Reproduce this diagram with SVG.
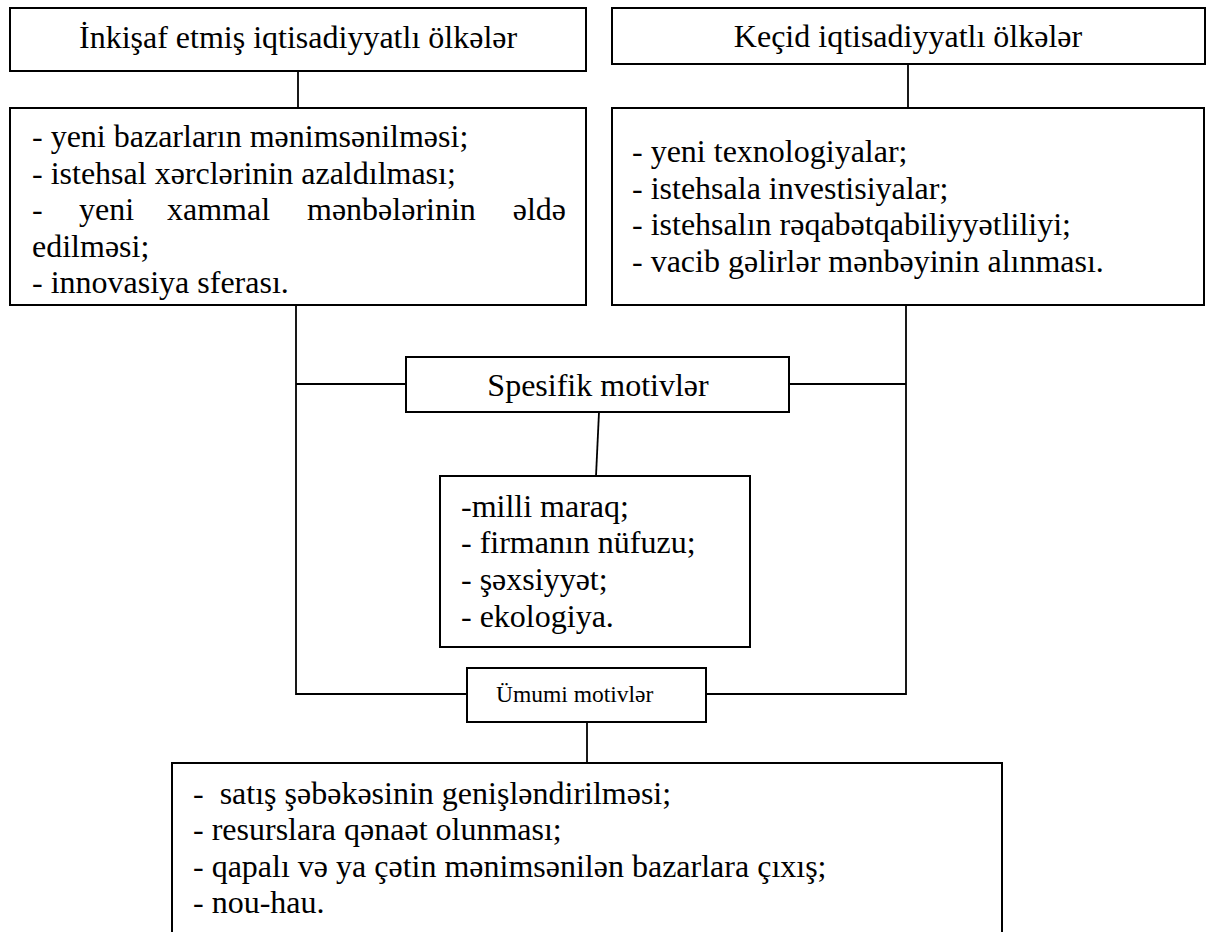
<svg xmlns="http://www.w3.org/2000/svg" width="1207" height="932" viewBox="0 0 1207 932" font-family="'Liberation Serif', 'Times New Roman', serif">
<style>
.box{fill:#fff;stroke:#000;stroke-width:2}
.ln{fill:none;stroke:#000;stroke-width:1.8}
text{font-family:"Liberation Serif","Times New Roman",serif;font-size:32px;fill:#000}
.sm{font-size:23.5px}
</style>
<rect width="1207" height="932" fill="#fff"/>
<g id="connectors">
<line class="ln" x1="298" y1="71" x2="298" y2="108"/>
<line class="ln" x1="908" y1="64" x2="908" y2="108"/>
<polyline class="ln" points="296,305 296,694 467,694"/>
<polyline class="ln" points="906,305 906,694 706,694"/>
<line class="ln" x1="296" y1="384" x2="406" y2="384"/>
<line class="ln" x1="789" y1="384" x2="906" y2="384"/>
<line class="ln" x1="599" y1="412" x2="596" y2="476"/>
<line class="ln" x1="587" y1="722" x2="587" y2="763"/>
</g>
<g id="n1">
<rect class="box" x="10" y="8" width="576" height="63"/>
<text x="79" y="48">İnkişaf etmiş iqtisadiyyatlı ölkələr</text>
</g>
<g id="n2">
<rect class="box" x="612" y="8" width="593" height="56"/>
<text x="908" y="47" text-anchor="middle">Keçid iqtisadiyyatlı ölkələr</text>
</g>
<g id="n3">
<rect class="box" x="10" y="108" width="576" height="197"/>
<text x="32" y="147">- yeni bazarların mənimsənilməsi;</text>
<text x="32" y="183.5">- istehsal xərclərinin azaldılması;</text>
<text y="220"><tspan x="32">-</tspan><tspan x="79">yeni</tspan><tspan x="167">xammal</tspan><tspan x="307">mənbələrinin</tspan><tspan x="566" text-anchor="end">əldə</tspan></text>
<text x="32" y="256.7">edilməsi;</text>
<text x="32" y="293.3">- innovasiya sferası.</text>
</g>
<g id="n4">
<rect class="box" x="612" y="108" width="592" height="197"/>
<text x="632" y="162">- yeni texnologiyalar;</text>
<text x="632" y="198.7">- istehsala investisiyalar;</text>
<text x="632" y="235.4">- istehsalın rəqabətqabiliyyətliliyi;</text>
<text x="632" y="272">- vacib gəlirlər mənbəyinin alınması.</text>
</g>
<g id="n5">
<rect class="box" x="406" y="357" width="383" height="55"/>
<text x="598" y="396" text-anchor="middle">Spesifik motivlər</text>
</g>
<g id="n6">
<rect class="box" x="440" y="476" width="310" height="171"/>
<text x="461" y="516.7">-milli maraq;</text>
<text x="461" y="553.3">- firmanın nüfuzu;</text>
<text x="461" y="590">- şəxsiyyət;</text>
<text x="461" y="626.7">- ekologiya.</text>
</g>
<g id="n7">
<rect class="box" x="467" y="668" width="239" height="54"/>
<text class="sm" x="496" y="702">Ümumi motivlər</text>
</g>
<g id="n8">
<rect class="box" x="172" y="763" width="830" height="220"/>
<text x="193" y="803.5" xml:space="preserve">-  satış şəbəkəsinin genişləndirilməsi;</text>
<text x="193" y="840">- resurslara qənaət olunması;</text>
<text x="193" y="876.7">- qapalı və ya çətin mənimsənilən bazarlara çıxış;</text>
<text x="193" y="913.3">- nou-hau.</text>
</g>
</svg>
